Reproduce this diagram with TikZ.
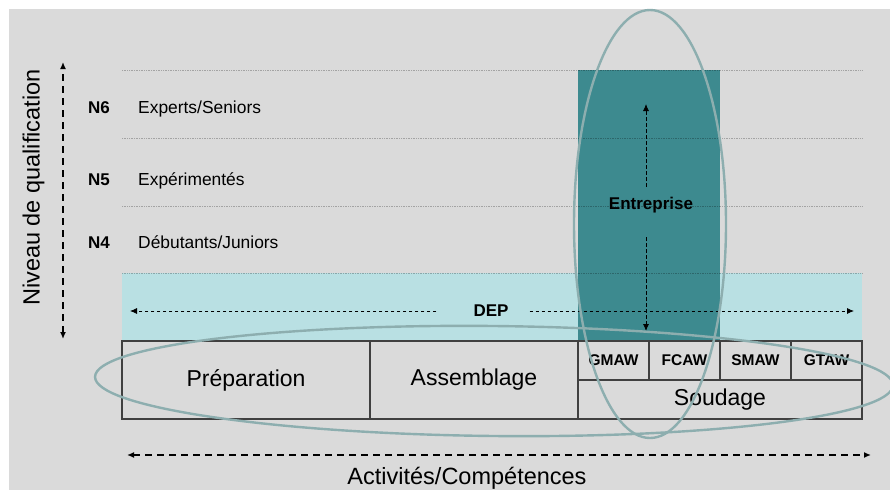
\documentclass[tikz,border=0pt]{standalone}
\usepackage{fontspec}
\setmainfont{Liberation Sans}
\usetikzlibrary{positioning}
\usetikzlibrary{arrows.meta}
\definecolor{bggrey}{HTML}{DADADA}
\definecolor{depcyan}{HTML}{B9E0E3}
\definecolor{entteal}{HTML}{3D8A8F}
\definecolor{ringgrey}{HTML}{8DAEAF}
\definecolor{cellline}{HTML}{404040}

\begin{document}
\begin{tikzpicture}[x=1pt, y=-1pt, >={Latex[length=7pt,width=6pt]},
	cell/.style={draw=cellline, line width=1.2pt, inner sep=0pt, outer sep=0pt, font=\fontsize{23}{27}\selectfont},
	weld/.style={cell, minimum width=71pt, minimum height=39pt, font=\bfseries\fontsize{15.5}{18}\selectfont},
	ring/.style={draw=ringgrey, line width=2.4pt},
	levelline/.style={black, opacity=.25, line width=.7pt, densely dotted},
	axisarrow/.style={<->, line width=1.5pt, dash pattern=on 7pt off 5pt},
	guide/.style={->, line width=.8pt, dash pattern=on 3.5pt off 2.5pt},
	bigtext/.style={inner sep=0pt, font=\fontsize{23.5}{27}\selectfont},
	lvltext/.style={inner sep=0pt, font=\fontsize{17.4}{20}\selectfont}]
	\useasboundingbox (0,0) rectangle (890,490);
	\fill[bggrey] (9,9) rectangle (890,490);

	% DEP band and the company block
	\fill[depcyan] (122,273) rectangle (862,341);
	\fill[entteal] (578,70) rectangle (720,341);
	\foreach \y in {70,138,206,273} {
		\draw[levelline] (122,\y) -- (862,\y);
	}

	% levels N4 to N6
	\foreach \n/\t/\y in {N6/{Experts/Seniors}/113, N5/{Expérimentés}/185, N4/{Débutants/Juniors}/248} {
		\node[lvltext, font=\bfseries\fontsize{17}{20}\selectfont, anchor=base] (\n) at (99,\y) {\n};
		\node[lvltext, anchor=base west] (\n txt) at (138,\y) {\t};
	}

	% activities table
	\node[cell, minimum width=248pt, minimum height=78pt] (prep) at (246,380) {Préparation};
	\node[cell, minimum width=208pt, minimum height=78pt, right=0pt of prep] (asm) {Assemblage};
	\foreach \w [count=\i] in {GMAW,FCAW,SMAW,GTAW} {
		\node[weld] (weld\i) at ({578+71*\i-35.5},360.5) {\w};
	}
	\node[cell, minimum width=284pt, minimum height=39pt, anchor=north west] (soud) at (weld1.south west) {Soudage};

	% DEP and Entreprise ranges
	\node[inner sep=0pt, font=\bfseries\fontsize{17}{20}\selectfont] (dep) at (491,311) {DEP};
	\coordinate (depL) at (130,311);
	\coordinate (depR) at (854,311);
	\draw[guide] ([xshift=-37pt]dep.west) -- (depL);
	\draw[guide] ([xshift=21pt]dep.east) -- (depR);

	\node[inner sep=0pt, font=\bfseries\fontsize{17}{20}\selectfont] (ent) at (651,205) {Entreprise};
	\coordinate (entTop) at (646,104);
	\coordinate (entBot) at (646,331);
	\draw[guide] ([yshift=10pt]ent.north -| entTop) -- (entTop);
	\draw[guide] ([yshift=-24pt]ent.south -| entBot) -- (entBot);

	% axes
	\coordinate (qualTop) at (63,62);
	\coordinate (qualBot) at (63,339);
	\draw[axisarrow] (qualBot) -- (qualTop);
	\node[bigtext, rotate=90, anchor=base] (qual) at (39.5,187.5) {Niveau de qualification};

	\coordinate (actL) at (127,455);
	\coordinate (actR) at (871,455);
	\draw[axisarrow] (actL) -- (actR);
	\node[bigtext, anchor=base] (act) at (467,484) {Activités/Compétences};

	% rings
	\draw[ring, rotate around={-0.6:(494,381)}] (494,381) ellipse [x radius=399, y radius=55];
	\draw[ring] (650,224) ellipse [x radius=76, y radius=214];
\end{tikzpicture}
\end{document}
